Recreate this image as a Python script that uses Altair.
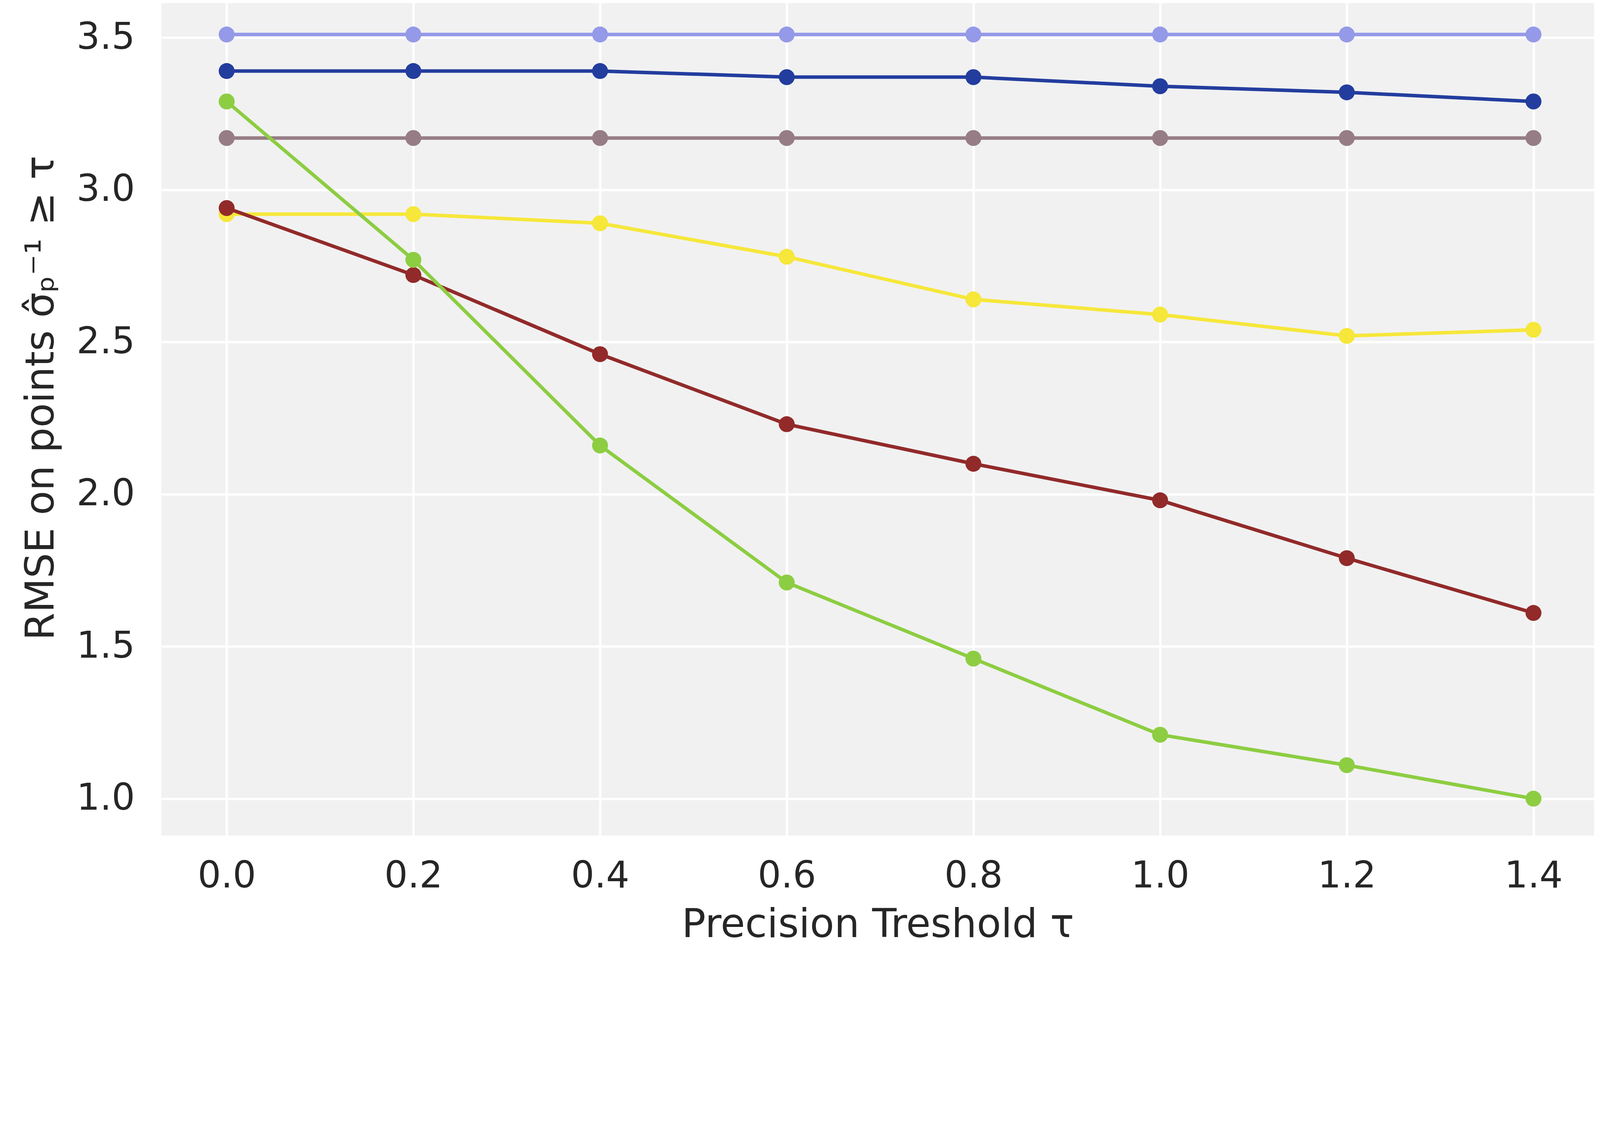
import altair as alt
import pandas as pd

# --- data ---
taus = [0.0, 0.2, 0.4, 0.6, 0.8, 1.0, 1.2, 1.4]
s_lightpurple = [3.51, 3.51, 3.51, 3.51, 3.51, 3.51, 3.51, 3.51]
s_darkblue = [3.39, 3.39, 3.39, 3.37, 3.37, 3.34, 3.32, 3.29]
s_mauve = [3.17, 3.17, 3.17, 3.17, 3.17, 3.17, 3.17, 3.17]
s_yellow = [2.92, 2.92, 2.89, 2.78, 2.64, 2.59, 2.52, 2.54]
s_red = [2.94, 2.72, 2.46, 2.23, 2.10, 1.98, 1.79, 1.61]
s_green = [3.29, 2.77, 2.16, 1.71, 1.46, 1.21, 1.11, 1.00]

series_names = ["lightpurple", "darkblue", "mauve", "yellow", "red", "green"]
series_values = [s_lightpurple, s_darkblue, s_mauve, s_yellow, s_red, s_green]
series_colors = ["#9499e8", "#233d9e", "#967d85", "#f6e73a", "#922a2a", "#8dcd42"]

x_ticks = [0.0, 0.2, 0.4, 0.6, 0.8, 1.0, 1.2, 1.4]
y_ticks = [1.0, 1.5, 2.0, 2.5, 3.0, 3.5]

x_title = "Precision Treshold \u03c4"
y_title = "RMSE on points \u03c3\u0302\u209a\u207b\u00b9 \u2265 \u03c4"

PLOT_W = 3668
PLOT_H = 2130

xscale = alt.Scale(domain=[-0.07, 1.465], nice=False, zero=False)
yscale = alt.Scale(domain=[0.879, 3.613], nice=False, zero=False)

layers = []
for i, (name, vals, col) in enumerate(zip(series_names, series_values, series_colors)):
    df = pd.DataFrame({"tau": taus, "rmse": vals, "series": name})
    base = alt.Chart(df)
    if i == 0:
        xenc = alt.X("tau:Q", scale=xscale, title=x_title,
                     axis=alt.Axis(values=x_ticks, format=".1f"))
        yenc = alt.Y("rmse:Q", scale=yscale, title=y_title,
                     axis=alt.Axis(values=y_ticks, format=".1f", titleY=1010))
    else:
        xenc = alt.X("tau:Q", scale=xscale)
        yenc = alt.Y("rmse:Q", scale=yscale)
    line = base.mark_line(color=col, strokeWidth=9).encode(x=xenc, y=yenc)
    pts = base.mark_circle(color=col, size=1662, opacity=1).encode(x=xenc, y=yenc)
    layers.append(line)
    layers.append(pts)

chart = alt.layer(*layers).properties(
    width=PLOT_W,
    height=PLOT_H,
    autosize=alt.AutoSizeParams(type="none"),
    padding={"left": 405, "top": 0, "right": 0, "bottom": 320},
    background="white",
).configure_view(
    fill="#f1f1f1", stroke=None
).configure_axis(
    grid=True,
    gridColor="white",
    gridWidth=6,
    domain=False,
    ticks=False,
    labelFont="DejaVu Sans",
    labelFontSize=94,
    labelColor="#262626",
    titleFont="DejaVu Sans",
    titleFontSize=102,
    titleFontWeight="normal",
    titleColor="#262626",
).configure_axisX(
    labelPadding=58,
    titlePadding=27,
).configure_axisY(
    labelPadding=68,
    titlePadding=56,
)

chart.save("out.html", embed_options={"renderer": "svg", "actions": False})
